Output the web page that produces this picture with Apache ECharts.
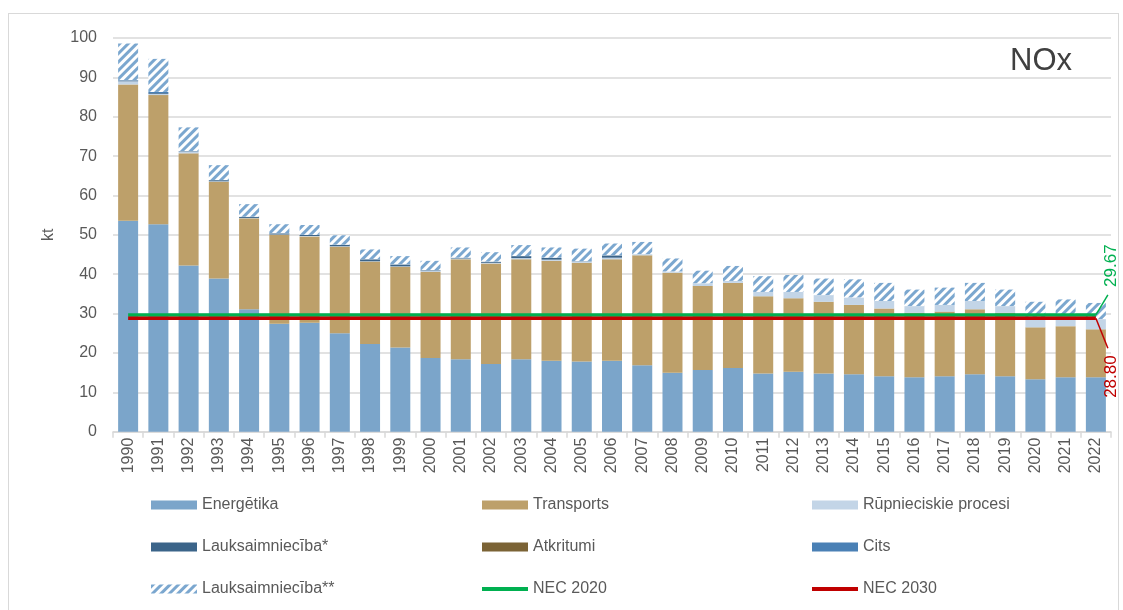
<!DOCTYPE html>
<html><head><meta charset="utf-8">
<script src="https://cdn.jsdelivr.net/npm/echarts@6/dist/echarts.min.js"></script>
<style>
html,body{margin:0;padding:0;background:#fff;overflow:hidden;width:1123px;height:610px}
#frame{position:absolute;left:8px;top:13px;width:1111px;height:640px;border:1.5px solid #D9D9D9;box-sizing:border-box}
#chart{position:absolute;left:0;top:0;width:1123px;height:610px}
</style></head><body>
<div id="frame"></div>
<div id="chart"></div>
<script>
const years = ['1990','1991','1992','1993','1994','1995','1996','1997','1998','1999','2000','2001','2002','2003','2004','2005','2006','2007','2008','2009','2010','2011','2012','2013','2014','2015','2016','2017','2018','2019','2020','2021','2022'];
const energetika = [53.6,52.7,42.2,38.9,31.1,27.4,27.7,25.0,22.3,21.4,18.7,18.4,17.2,18.4,18.0,17.8,18.0,16.9,15.0,15.7,16.2,14.8,15.2,14.8,14.6,14.1,13.8,14.1,14.6,14.1,13.3,13.8,13.8];
const transports = [34.6,32.8,28.5,24.6,23.1,22.6,21.9,22.0,20.9,20.5,21.9,25.4,25.5,25.4,25.4,25.1,25.8,27.9,25.4,21.3,21.6,19.6,18.7,18.2,17.6,17.2,16.4,16.4,16.5,16.1,13.2,13.0,12.2];
const rupnieciskie = [0.8,0.3,0.5,0.1,0.1,0.1,0.1,0.1,0.1,0.1,0.2,0.2,0.2,0.3,0.3,0.3,0.4,0.3,0.3,0.7,0.5,1.1,1.6,1.7,1.9,1.9,1.7,1.7,2.1,1.7,2.4,2.5,2.6];
const lauksaimnieciba1 = [0.2,0.2,0.1,0.3,0.3,0.3,0.3,0.4,0.5,0.5,0.2,0.2,0.3,0.5,0.5,0.1,0.6,0,0,0,0,0,0,0,0,0,0,0,0,0,0,0,0];
const atkritumi = [0,0,0,0,0,0,0,0,0,0,0,0,0,0,0,0,0,0,0,0,0,0,0,0,0,0,0,0,0,0,0,0,0];
const cits = [0.1,0.3,0,0,0,0,0,0,0,0,0,0,0,0,0,0,0,0,0,0,0,0,0,0,0,0,0,0,0,0,0,0,0];
const lauksaimnieciba2 = [9.3,8.4,6.0,3.8,3.2,2.3,2.5,2.4,2.5,2.1,2.4,2.6,2.4,2.8,2.6,3.2,3.0,3.1,3.3,3.2,3.8,4.0,4.3,4.2,4.6,4.6,4.2,4.4,4.6,4.2,4.1,4.3,4.1];
const necYears = ['1990','2022'];
const nec2020 = [29.67, 29.67];
const nec2030 = [28.80, 28.80];
const yTicks = {min: 0, max: 100, interval: 10};

const FONT = 'Liberation Sans';
const TXT = '#595959';

function barSeries(name, data, color, extra) {
  return Object.assign({
    name, type: 'bar', stack: 'total', data,
    barWidth: 20,
    itemStyle: {color},
    emphasis: {disabled: true}
  }, extra || {});
}

function necSeries(name, ys, color) {
  return {
    name, type: 'line', z: 5,
    data: necYears.map((y, i) => [y, ys[i]]),
    symbol: 'none', showSymbol: false,
    lineStyle: {color, width: 3.5},
    itemStyle: {color},
    emphasis: {disabled: true},
    animation: false
  };
}

// value label with leader line, positioned from the last NEC point via the axes
function necLabel(ys, color, up) {
  const last = necYears.length - 1;
  return {
    type: 'custom', z: 6, clip: false, silent: true,
    data: [[necYears[last], ys[last]]],
    renderItem: function (params, api) {
      const p = api.coord([api.value(0), api.value(1)]);
      const s = up ? -1 : 1;
      return {
        type: 'group',
        children: [
          {type: 'polyline', shape: {points: [[p[0], p[1]], [p[0] + 12, p[1] + s * (up ? 20 : 30)]]},
           style: {stroke: color, lineWidth: 1.5, fill: null}},
          {type: 'text', x: p[0] + 15, y: p[1] + s * (up ? 28 : 37), rotation: Math.PI / 2,
           style: {text: api.value(1).toFixed(2), fill: color, font: '17px ' + FONT,
                   align: up ? 'left' : 'right', verticalAlign: 'middle'}}
        ]
      };
    }
  };
}

const legendBase = {
  orient: 'vertical', top: 497, padding: 0, itemWidth: 46, itemHeight: 9, itemGap: 26,
  textStyle: {fontSize: 16, color: TXT, fontFamily: FONT},
  selectedMode: false
};

const option = {
  animation: false,
  backgroundColor: 'transparent',
  textStyle: {fontFamily: FONT},
  title: {
    text: 'NOx', right: 46, top: 41,
    textStyle: {fontSize: 31, fontWeight: 'normal', color: '#404040', fontFamily: FONT}
  },
  grid: {left: 113, right: 12, top: 38, bottom: 178.3, containLabel: false},
  legend: [
    Object.assign({}, legendBase, {left: 151, data: [
      {name: 'Energētika', icon: 'rect'},
      {name: 'Lauksaimniecība*', icon: 'rect'},
      {name: 'Lauksaimniecība**', icon: 'rect'}]}),
    Object.assign({}, legendBase, {left: 480, data: [
      {name: 'Transports', icon: 'rect'},
      {name: 'Atkritumi', icon: 'rect'},
      {name: 'NEC 2020', itemStyle: {opacity: 0}, lineStyle: {width: 4}}]}),
    Object.assign({}, legendBase, {left: 810, data: [
      {name: 'Rūpnieciskie procesi', icon: 'rect'},
      {name: 'Cits', icon: 'rect'},
      {name: 'NEC 2030', itemStyle: {opacity: 0}, lineStyle: {width: 4}}]})
  ],
  xAxis: {
    type: 'category', data: years,
    axisLine: {lineStyle: {color: '#D9D9D9', width: 1.5}},
    axisTick: {show: true, length: 6, lineStyle: {color: '#D9D9D9', width: 1.5}},
    axisLabel: {rotate: 90, margin: 6, fontSize: 16, color: TXT, fontFamily: FONT}
  },
  yAxis: {
    type: 'value', min: yTicks.min, max: yTicks.max, interval: yTicks.interval,
    name: 'kt', nameLocation: 'middle', nameGap: 56,
    nameTextStyle: {fontSize: 16, color: TXT, fontFamily: FONT},
    axisLine: {show: false}, axisTick: {show: false},
    axisLabel: {fontSize: 16, color: TXT, margin: 16, fontFamily: FONT},
    splitLine: {lineStyle: {color: '#D9D9D9', width: 1.5}}
  },
  series: [
    barSeries('Energētika', energetika, '#7BA5CA'),
    barSeries('Transports', transports, '#BDA06A'),
    barSeries('Rūpnieciskie procesi', rupnieciskie, '#C3D5E7'),
    barSeries('Lauksaimniecība*', lauksaimnieciba1, '#3B6489'),
    barSeries('Atkritumi', atkritumi, '#7B6335'),
    barSeries('Cits', cits, '#4A80B5'),
    barSeries('Lauksaimniecība**', lauksaimnieciba2, '#FFFFFF', {
      itemStyle: {
        color: '#FFFFFF',
        decal: {
          symbol: 'rect', symbolSize: 1,
          dashArrayX: [1, 0], dashArrayY: [2.4, 2.4],
          rotation: -Math.PI / 4,
          color: '#7BA7CF'
        }
      }
    }),
    necSeries('NEC 2020', nec2020, '#00B050'),
    necSeries('NEC 2030', nec2030, '#C00000'),
    necLabel(nec2020, '#00B050', true),
    necLabel(nec2030, '#C00000', false)
  ]
};

const chart = echarts.init(document.getElementById('chart'), null, {renderer: 'canvas'});
chart.setOption(option);
</script>
</body></html>
